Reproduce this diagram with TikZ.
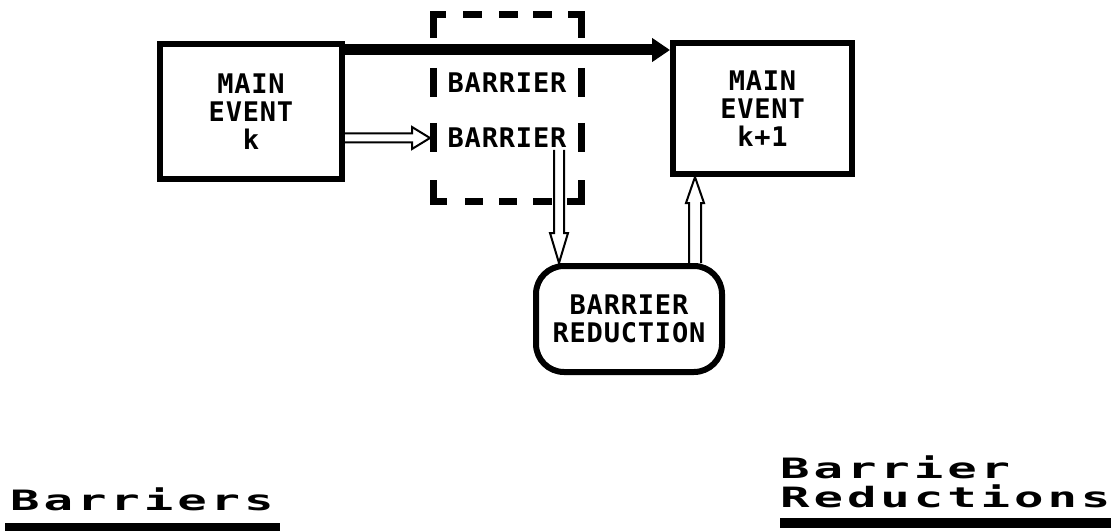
\documentclass[tikz,border=0pt]{standalone}
\usepackage{fontspec}
\usetikzlibrary{arrows.meta,calc}
\newfontfamily\boxfont[LetterSpace=3]{DejaVu Sans Mono}
\newfontfamily\widefont[FakeStretch=1.75,LetterSpace=14]{DejaVu Sans Mono}
\begin{document}
\begin{tikzpicture}[x=1pt,y=-1pt,
  mainbox/.style={draw,line width=6pt,align=center,inner sep=0pt,
    font=\boxfont\bfseries\fontsize{27}{28}\selectfont},
  roundbox/.style={mainbox,rounded corners=28pt},
  boxtext/.style={inner sep=0pt,outer sep=2pt,font=\boxfont\bfseries\fontsize{27}{28}\selectfont},
  framepart/.style={line width=7pt},
  thickarrow/.style={line width=11pt,-{Triangle[length=18pt,width=23pt]}},
  hollow/.style={line width=2pt,line join=miter},
  label/.style={inner sep=0pt,align=left,font=\widefont\bfseries\fontsize{28}{29}\selectfont},
  bar/.style={fill=black}]
\useasboundingbox (0,0) rectangle (1111,532);
\fill[white] (0,0) rectangle (1111,532);

% main event boxes
\node[mainbox,minimum width=182pt,minimum height=135pt] (k) at (251,111.5) {MAIN\\EVENT\\k};
\node[mainbox,minimum width=179pt,minimum height=131pt] (k1) at (762.5,108.5) {MAIN\\EVENT\\k+1};

% barrier frame
\node[minimum width=148pt,minimum height=186pt,inner sep=0pt,outer sep=3.5pt] (frame) at (507.5,108) {};
\node[boxtext] (b1) at (507,83) {BARRIER};
\node[boxtext] (b2) at (507,138) {BARRIER};
\draw[framepart] (433.5,38) -- (433.5,15) -- (446,15);
\draw[framepart] (463,15) -- (482,15) (499,15) -- (518,15) (533,15) -- (552,15);
\draw[framepart] (568,15) -- (581.5,15) -- (581.5,38);
\draw[framepart] (433.5,68) -- (433.5,97) (433.5,123) -- (433.5,152);
\draw[framepart] (581.5,68) -- (581.5,97) (581.5,123) -- (581.5,152);
\draw[framepart] (433.5,180) -- (433.5,201) -- (447,201);
\draw[framepart] (465,201) -- (483,201) (499,201) -- (517,201) (533,201) -- (552,201);
\draw[framepart] (567,201) -- (581.5,201) -- (581.5,180);

% barrier reduction
\node[roundbox,minimum width=186pt,minimum height=106pt] (red) at (629,319) {BARRIER\\REDUCTION};

% thick arrow k -> k+1
\draw[thickarrow] ($(k.north east)+(0,9)$) -- ($(k.north east -| k1.west)+(0,9)$);

% hollow arrow k -> barrier
\coordinate (hs) at (k.east |- b2);
\coordinate (ht) at (frame.west |- b2);
\draw[hollow] ($(hs)+(0,-4.5)$) -- ($(ht)+(-18,-4.5)$) -- ($(ht)+(-18,-11)$) -- (ht)
  -- ($(ht)+(-18,11)$) -- ($(ht)+(-18,4.5)$) -- ($(hs)+(0,4.5)$);

% hollow arrow barrier -> reduction
\coordinate (ds) at ($(b2.south)+(52,0)$);
\coordinate (dt) at (ds |- red.north);
\draw[hollow] ($(ds)+(-5,0)$) -- ($(dt)+(-5,-30)$) -- ($(dt)+(-9,-30)$) -- (dt)
  -- ($(dt)+(9,-30)$) -- ($(dt)+(5,-30)$) -- ($(ds)+(5,0)$);

% hollow arrow reduction -> k+1
\coordinate (us) at ($(red.north)+(66,0)$);
\coordinate (ut) at (us |- k1.south);
\draw[hollow] ($(us)+(-6,0)$) -- ($(ut)+(-6,26)$) -- ($(ut)+(-9,26)$) -- (ut)
  -- ($(ut)+(9,26)$) -- ($(ut)+(6,26)$) -- ($(us)+(6,0)$);

% bottom labels
\node[label,anchor=base west] (l1) at (10,510) {Barriers};
\node[label,anchor=base west] (l2) at (780,507) {Barrier\\Reductions};
\fill[bar] (5,523) rectangle (280,531);
\fill[bar] (780,518) rectangle (1111,528);
\end{tikzpicture}
\end{document}
